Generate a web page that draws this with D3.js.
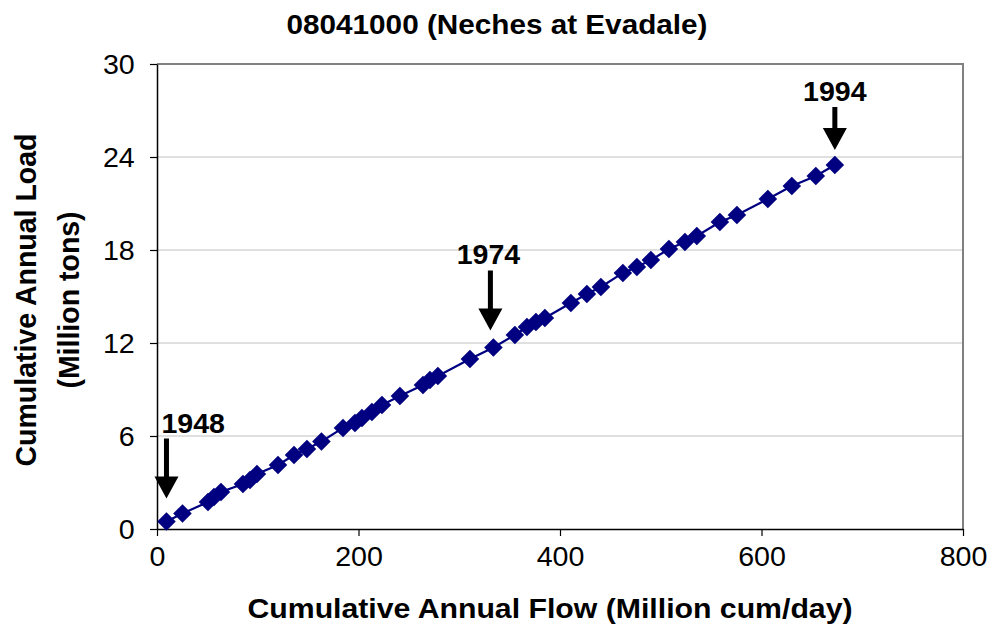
<!DOCTYPE html>
<html>
<head>
<meta charset="utf-8">
<script src="https://d3js.org/d3.v7.min.js"></script>
<style>
body { margin: 0; background: #fff; }
text { font-family: "Liberation Sans", Arial, sans-serif; }
</style>
</head>
<body>
<script>
// cumulative annual flow (million cum/day) and load (million tons), 1948-1994
var flow = [9.4, 25.3, 50.6, 56.6, 63.5, 85.3, 92.3, 99.2, 120.1, 136.0, 148.8, 163.2,
            184.6, 196.5, 203.4, 213.3, 223.3, 241.1, 264.0, 270.9, 278.8, 310.6, 333.9,
            355.2, 367.2, 376.1, 385.0, 410.8, 426.7, 440.6, 462.4, 476.3, 490.2, 508.1,
            524.0, 535.8, 558.7, 575.6, 606.3, 630.1, 653.9, 672.8];
var load = [0.48, 1.00, 1.74, 2.06, 2.39, 2.90, 3.16, 3.55, 4.13, 4.77, 5.16, 5.65,
            6.52, 6.84, 7.16, 7.55, 8.00, 8.58, 9.29, 9.61, 9.87, 10.97, 11.71,
            12.52, 13.03, 13.35, 13.61, 14.58, 15.16, 15.61, 16.52, 16.90, 17.35, 18.06,
            18.52, 18.90, 19.81, 20.26, 21.29, 22.13, 22.77, 23.48];
var xTicks = [0, 200, 400, 600, 800];
var yTicks = [0, 6, 12, 18, 24, 30];
var markYears = ["1948", "1974", "1994"];
var markIndex = [0, 22, 41];

var w = 992, h = 629;
var L = 157, R = 963, T = 64, B = 529;
var sx = 1.06; // horizontal stretch of the text

var data = flow.map(function(f, i){ return {x: f, y: load[i]}; });

var xScale = d3.scaleLinear().domain([0, 800]).range([L, R]);
var yScale = d3.scaleLinear().domain([0, 30]).range([B, T]);

var svg = d3.select("body").append("svg").attr("width", w).attr("height", h);

// grid
svg.append("g").selectAll("line").data(yTicks.filter(function(d){ return d > 0 && d < 30; }))
  .enter().append("line")
  .attr("x1", L).attr("x2", R)
  .attr("y1", function(d){ return yScale(d); }).attr("y2", function(d){ return yScale(d); })
  .attr("stroke", "#c0c0c0").attr("stroke-width", 1);

// top and right frame
svg.append("path").attr("d", "M" + L + "," + T + "H" + R + "V" + B)
  .attr("fill", "none").attr("stroke", "#808080").attr("stroke-width", 2);

// axes
var xAxis = d3.axisBottom(xScale).tickValues(xTicks).tickSize(7).tickPadding(11).tickSizeOuter(0);
var yAxis = d3.axisLeft(yScale).tickValues(yTicks).tickSize(7).tickPadding(14).tickSizeOuter(0);

var gx = svg.append("g").attr("transform", "translate(0," + B + ")").call(xAxis);
var gy = svg.append("g").attr("transform", "translate(" + L + ",0)").call(yAxis);
[gx, gy].forEach(function(g){
  g.select(".domain").attr("stroke", "#000").attr("stroke-width", 1.5);
  g.selectAll(".tick line").attr("stroke", "#000").attr("stroke-width", 1.2);
  g.selectAll(".tick text").attr("fill", "#000").attr("font-size", 27)
    .attr("font-family", "'Liberation Sans', Arial, sans-serif");
});
gx.selectAll(".tick text").attr("transform", "scale(" + sx + ",1)");
gy.selectAll(".tick text").attr("transform", "scale(" + sx + ",1)").attr("dy", "0.36em");

// line and markers
var line = d3.line().x(function(d){ return xScale(d.x); }).y(function(d){ return yScale(d.y); });
svg.append("path").datum(data).attr("d", line)
  .attr("fill", "none").attr("stroke", "#000080").attr("stroke-width", 2.2);

var sym = d3.symbol().type(d3.symbolSquare).size(172);
svg.append("g").selectAll("path").data(data).enter().append("path")
  .attr("d", sym)
  .attr("transform", function(d){ return "translate(" + xScale(d.x) + "," + yScale(d.y) + ") rotate(45)"; })
  .attr("fill", "#000080");

// annotation arrows
var gap = [23, 17, 15], len = [60, 60, 43], lx = [-5, -2, 0], anchor = ["start", "middle", "middle"];
markIndex.forEach(function(idx, k){
  var px = xScale(flow[idx]) + (k === 1 ? -3 : 0);
  var tip = yScale(load[idx]) - gap[k];
  var y0 = tip - len[k];
  var headTop = tip - 22;
  svg.append("path")
    .attr("d", "M" + (px - 2.5) + "," + y0 + "H" + (px + 2.5) + "V" + headTop +
               "H" + (px + 12) + "L" + px + "," + tip + "L" + (px - 12) + "," + headTop +
               "H" + (px - 2.5) + "Z")
    .attr("fill", "#000");
  svg.append("text")
    .attr("transform", "translate(" + (px + lx[k]) + "," + (y0 - 6) + ") scale(1.02,1)")
    .attr("text-anchor", anchor[k])
    .attr("font-size", 28).attr("font-weight", "bold")
    .text(markYears[k]);
});

// titles
svg.append("text")
  .attr("transform", "translate(497,34) scale(1.1,1)")
  .attr("text-anchor", "middle").attr("font-size", 27).attr("font-weight", "bold")
  .text("08041000 (Neches at Evadale)");

svg.append("text")
  .attr("transform", "translate(550,618) scale(1.08,1)")
  .attr("text-anchor", "middle").attr("font-size", 28).attr("font-weight", "bold")
  .text("Cumulative Annual Flow (Million cum/day)");

svg.append("text")
  .attr("transform", "translate(36,300) scale(1.04,1) rotate(-90)")
  .attr("text-anchor", "middle").attr("font-size", 28.5).attr("font-weight", "bold")
  .text("Cumulative Annual Load");
svg.append("text")
  .attr("transform", "translate(79,300) scale(1.04,1) rotate(-90)")
  .attr("text-anchor", "middle").attr("font-size", 28.5).attr("font-weight", "bold")
  .text("(Million tons)");
</script>
</body>
</html>
